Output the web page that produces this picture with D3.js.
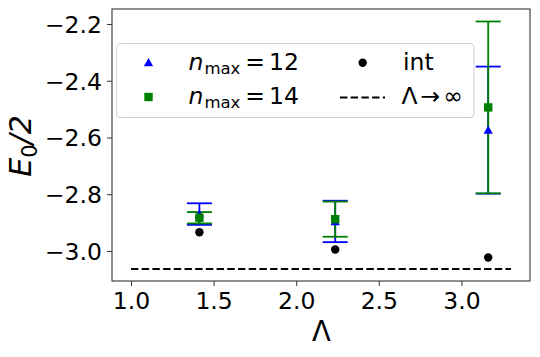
<!DOCTYPE html>
<html>
<head>
<meta charset="utf-8">
<script src="https://cdn.jsdelivr.net/npm/d3@7"></script>
<style>
	body { margin: 0; background: #fff; }
	svg text { font-family: "DejaVu Sans", sans-serif; }
</style>
</head>
<body>
<svg id="chart" width="540" height="357"></svg>
<script>
const WIDTH = 540,
	  HEIGHT = 357;

// data
const lambdas = [1.414, 2.236, 3.162];
const nmax12 = [-2.870, -2.896, -2.574],
	  nmax12Err = [0.038, 0.073, 0.224];
const nmax14 = [-2.883, -2.888, -2.494],
	  nmax14Err = [0.020, 0.062, 0.303];
const intValues = [-2.934, -2.995, -3.023];
const limitValue = -3.0635,
	  limitRange = [1.0, 3.3];
const xTicks = [1.0, 1.5, 2.0, 2.5, 3.0],
	  yTicks = [-3.0, -2.8, -2.6, -2.4, -2.2];

const margin = {left: 112, right: 10, top: 9, bottom: 76};

let svg = d3.select("#chart");

let x = d3.scaleLinear()
		.domain([0.885, 3.415])
		.range([margin.left, WIDTH - margin.right]);

let y = d3.scaleLinear()
		.domain([-3.106, -2.147])
		.range([HEIGHT - margin.bottom, margin.top]);

let fmt = d => d3.format(".1f")(d).replace("-", "\u2212");

// axes
let xAxis = svg.append("g")
		.attr("transform", "translate(0," + (HEIGHT - margin.bottom) + ")")
		.call(d3.axisBottom(x).tickValues(xTicks).tickFormat(fmt).tickSize(5).tickPadding(6));

let yAxis = svg.append("g")
		.attr("transform", "translate(" + margin.left + ",0)")
		.call(d3.axisLeft(y).tickValues(yTicks).tickFormat(fmt).tickSize(5).tickPadding(5));

[xAxis, yAxis].forEach(a => {
	a.select(".domain").remove();
	a.selectAll("line").attr("stroke", "#333").attr("stroke-width", 1);
	a.selectAll("text")
		.attr("fill", "#000")
		.style("font-size", "23.5px")
		.style("font-family", "DejaVu Sans");
});
yAxis.selectAll("text").attr("dy", "0.36em");
xAxis.selectAll("text").attr("dy", "0.72em");

// frame
svg.append("rect")
		.attr("x", margin.left)
		.attr("y", margin.top)
		.attr("width", WIDTH - margin.left - margin.right)
		.attr("height", HEIGHT - margin.top - margin.bottom)
		.attr("fill", "none")
		.attr("stroke", "#333")
		.attr("stroke-width", 1.1);

// axis labels
svg.append("text")
		.attr("x", 321.5)
		.attr("y", 340.5)
		.attr("text-anchor", "middle")
		.style("font-size", "27.5px")
		.text("\u039b");

let yLabel = svg.append("text")
		.attr("transform", "translate(31,146) rotate(-90)")
		.attr("text-anchor", "middle")
		.style("font-size", "30px");
yLabel.append("tspan").style("font-style", "italic").text("E");
yLabel.append("tspan").attr("dy", 6).style("font-size", "21px").text("0");
yLabel.append("tspan").attr("dy", -6).style("font-style", "italic").text("/2");

// error bars
function errorBars(vals, errs, color) {
	let g = svg.append("g")
			.attr("stroke", color)
			.attr("stroke-width", 1.8);
	vals.forEach((v, i) => {
		let cx = x(lambdas[i]);
		g.append("line")
			.attr("x1", cx).attr("x2", cx)
			.attr("y1", y(v - errs[i])).attr("y2", y(v + errs[i]));
		[v - errs[i], v + errs[i]].forEach(e => {
			g.append("line")
				.attr("x1", cx - 12.5).attr("x2", cx + 12.5)
				.attr("y1", y(e)).attr("y2", y(e));
		});
	});
}

errorBars(nmax12, nmax12Err, "#0000ff");
errorBars(nmax14, nmax14Err, "#008000");

let triangle = d3.symbol().type(d3.symbolTriangle).size(38);

svg.append("g").selectAll("path")
		.data(nmax12)
		.join("path")
		.attr("d", triangle)
		.attr("transform", (d, i) => "translate(" + x(lambdas[i]) + "," + (y(d) + 1) + ")")
		.attr("fill", "#0000ff");

svg.append("g").selectAll("rect")
		.data(nmax14)
		.join("rect")
		.attr("x", (d, i) => x(lambdas[i]) - 4.2)
		.attr("y", d => y(d) - 4.2)
		.attr("width", 8.4)
		.attr("height", 8.4)
		.attr("fill", "#008000");

svg.append("g").selectAll("circle")
		.data(intValues)
		.join("circle")
		.attr("cx", (d, i) => x(lambdas[i]))
		.attr("cy", d => y(d))
		.attr("r", 4.2)
		.attr("fill", "#000");

// limit line
svg.append("line")
		.attr("x1", x(limitRange[0]))
		.attr("x2", x(limitRange[1]))
		.attr("y1", y(limitValue))
		.attr("y2", y(limitValue))
		.attr("stroke", "#000")
		.attr("stroke-width", 2)
		.attr("stroke-dasharray", "7.4,3.3");

// legend
let legend = svg.append("g");

legend.append("rect")
		.attr("x", 116.5)
		.attr("y", 43.5)
		.attr("width", 357.5)
		.attr("height", 74)
		.attr("rx", 4)
		.attr("fill", "#fff")
		.attr("fill-opacity", 0.8)
		.attr("stroke", "#d0d0d0")
		.attr("stroke-width", 1);

legend.append("path")
		.attr("d", triangle)
		.attr("transform", "translate(148.5,63.5)")
		.attr("fill", "#0000ff");

legend.append("rect")
		.attr("x", 144.3)
		.attr("y", 92.8)
		.attr("width", 8.4)
		.attr("height", 8.4)
		.attr("fill", "#008000");

legend.append("circle")
		.attr("cx", 362.7)
		.attr("cy", 62.7)
		.attr("r", 4.2)
		.attr("fill", "#000");

legend.append("line")
		.attr("x1", 340)
		.attr("x2", 385)
		.attr("y1", 97.5)
		.attr("y2", 97.5)
		.attr("stroke", "#000")
		.attr("stroke-width", 2)
		.attr("stroke-dasharray", "7.4,3.3");

function nmaxLabel(yPos, val) {
	let t = legend.append("text")
			.attr("x", 188.5)
			.attr("y", yPos)
			.style("font-size", "23.5px");
	t.append("tspan").style("font-style", "italic").text("n");
	t.append("tspan").attr("dy", 4).attr("dx", 1).style("font-size", "16.5px").text("max");
	t.append("tspan").attr("dy", -4).attr("dx", 5).text("=");
	t.append("tspan").attr("dx", 4).text(val);
}

nmaxLabel(70, "12");
nmaxLabel(103.5, "14");

legend.append("text")
		.attr("x", 403)
		.attr("y", 70)
		.style("font-size", "23.5px")
		.text("int");

let limitLabel = legend.append("text")
		.attr("x", 401.5)
		.attr("y", 103.5)
		.style("font-size", "23.5px");
limitLabel.append("tspan").text("\u039b");
limitLabel.append("tspan").attr("dx", 3).text("\u2192");
limitLabel.append("tspan").attr("dx", 3).text("\u221e");
</script>
</body>
</html>
